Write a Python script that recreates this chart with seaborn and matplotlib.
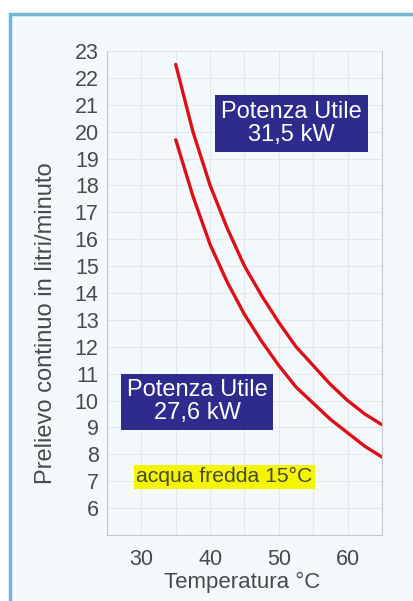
import numpy as np
import matplotlib
matplotlib.use("Agg")
import matplotlib.pyplot as plt
import matplotlib.patches as mpatches
import seaborn as sns
import pandas as pd

# temperature of hot water (°C)
temperatura = [35, 37.5, 40, 42.5, 45, 47.5, 50, 52.5, 55, 57.5, 60, 62.5, 65]
# continuous flow (l/min)
prelievo_315 = [22.5, 20.0, 18.0, 16.4, 15.0, 13.9, 12.9, 12.0, 11.3, 10.6, 10.0, 9.5, 9.1]
prelievo_276 = [19.7, 17.6, 15.8, 14.4, 13.2, 12.2, 11.3, 10.5, 9.9, 9.3, 8.8, 8.3, 7.9]

y_ticks = list(range(6, 24))
x_labels = [30, 40, 50, 60]
x_ticks = [25, 30, 35, 40, 45, 50, 55, 60, 65]

df = pd.DataFrame({
    "T": temperatura * 2,
    "L": prelievo_315 + prelievo_276,
    "serie": ["31,5 kW"] * len(temperatura) + ["27,6 kW"] * len(temperatura),
})

sns.set_style("white")
plt.rcParams["font.family"] = ["Liberation Sans", "DejaVu Sans"]

fig = plt.figure(figsize=(4.13, 6.01), dpi=100)
fig.patch.set_facecolor("white")

# light blue panel with border (cropped at right/bottom)
frame = mpatches.Rectangle((10 / 413, -0.05), 1.1, 0.977 + 0.05,
                           transform=fig.transFigure, facecolor="#f3f9fc",
                           edgecolor="#72b6d2", linewidth=2.5, zorder=-10)
fig.patches.append(frame)

ax = fig.add_axes([107 / 413, 1 - 535 / 601, (382 - 107) / 413, (535 - 51) / 601])
ax.set_facecolor("none")
ax.set_zorder(5)

sns.lineplot(data=df, x="T", y="L", units="serie", estimator=None,
             color="#dd1018", linewidth=2.4, ax=ax, legend=False)

ax.set_xlim(25, 65)
ax.set_ylim(5, 23)
ax.set_yticks(y_ticks)
ax.set_xticks(x_ticks)
ax.set_xticklabels([str(t) if t in x_labels else "" for t in x_ticks])
ax.grid(True, color="#e4e8ec", linewidth=0.8)
ax.tick_params(axis="both", direction="inout", length=8, width=0.8,
               color="#b8bcc0", labelcolor="#4a4a4a", labelsize=15.5, pad=2)
ax.tick_params(axis="x", pad=6)
for side in ["top"]:
    ax.spines[side].set_visible(False)
for side in ["left", "bottom", "right"]:
    ax.spines[side].set_color("#c4c8cc")
    ax.spines[side].set_linewidth(0.8)

ax.set_xlabel("Temperatura °C", fontsize=16, color="#4a4a4a")
ax.xaxis.set_label_coords(0.49, -0.076)
ax.set_ylabel("Prelievo continuo in litri/minuto", fontsize=17,
              color="#4a4a4a")
ax.yaxis.set_label_coords(-0.182, 0.438)

navy = "#2e2b8c"
ax.text(51.8, 20.3, "Potenza Utile\n31,5 kW", ha="center", va="center",
        fontsize=17, color="white", linespacing=1.05,
        bbox=dict(boxstyle="square,pad=0.25", facecolor=navy, edgecolor="none"))
ax.text(38.1, 9.95, "Potenza Utile\n27,6 kW", ha="center", va="center",
        fontsize=17, color="white", linespacing=1.05,
        bbox=dict(boxstyle="square,pad=0.25", facecolor=navy, edgecolor="none"))
ax.text(42.1, 7.16, "acqua fredda 15°C", ha="center", va="center",
        fontsize=15.2, color="#4a4a3a",
        bbox=dict(boxstyle="square,pad=0.12", facecolor="#f6f500", edgecolor="none"))

fig.savefig("out.png", dpi=100)
